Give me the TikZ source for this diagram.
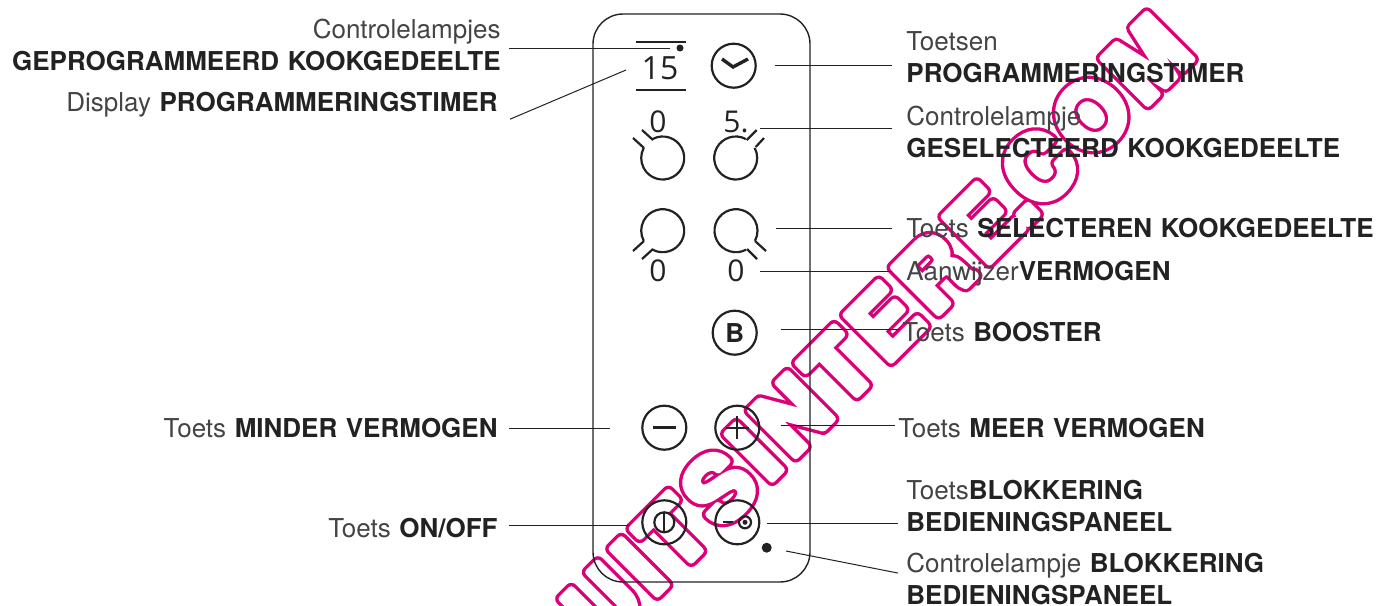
\documentclass[tikz,border=0pt]{standalone}
\usepackage{fontspec}
\setmainfont{TeX Gyre Heros}
\newfontfamily\digitfont{Open Sans}
\newfontfamily\stampfont[LetterSpace=9.5]{TeX Gyre Heros}
\usetikzlibrary{calc}
\definecolor{inkgray}{HTML}{222222}
\definecolor{softink}{HTML}{444444}
\definecolor{stampred}{HTML}{DC0078}
\tikzset{
  leader/.style={draw=inkgray, line width=0.5pt, shorten >=6.5pt},
  panel/.style={draw=inkgray, line width=0.7pt},
  pushkey/.style={circle, draw=inkgray, line width=1.1pt, minimum size=22pt, inner sep=0pt},
  tickline/.style={inkgray, line width=1.1pt},
  lblright/.style={anchor=base west, align=left, inner sep=0.5pt, text=softink, font=\fontsize{13}{16}\selectfont},
  lblleft/.style={anchor=base east, align=right, inner sep=0.5pt, text=softink, font=\fontsize{13}{16}\selectfont},
  readout/.style={inner sep=0pt, text=inkgray, font=\digitfont\fontsize{15}{15}\selectfont},
  stampmark/.style={rotate=45, anchor=base east, inner sep=0pt, font=\stampfont\bfseries\fontsize{44}{44}\selectfont}
}
\newcommand{\kw}[1]{\textcolor{inkgray}{\textbf{#1}}}
\newcommand{\wgap}{\hspace{4.3pt}}
\newcommand{\stampword}{UITSINTERE\kern-1.5pt.\kern-1.5pt COM}
\newcommand{\outlined}[2]{\special{pdf:code 2 Tr #1 w 1 j}#2\special{pdf:code 0 Tr}}
\begin{document}
\begin{tikzpicture}[x=0.5pt, y=-0.5pt]
\useasboundingbox (0,0) rectangle (1380,605);
% stamp across the panel
\coordinate (stampend) at (1196,55.5);
\node[stampmark, text=stampred] (stampline) at (stampend) {\outlined{6.7}{\stampword}};
\node[stampmark, text=white] (stampfill) at (stampend) {\outlined{3.3}{\stampword}};
% housing
\draw[panel] (593,14) [rounded corners=15pt] rectangle (810,582);
% display
\draw[tickline, line width=0.6pt] (636,42) -- (686,42);
\draw[tickline, line width=0.6pt] (636,90) -- (686,90);
\node[readout, font=\digitfont\fontsize{16}{16}\selectfont] (timeread) at (660,68.5) {15};
\fill[inkgray] (680,48) circle (3.5);
% timer key
\node[pushkey] (keytimer) at (733.7,65.7) {};
\draw[inkgray, line width=1.7pt] (722,59) -- (733,67) -- (748,59);
% zone selectors
\draw[tickline] (662.7,158) ++(-118:21.5) arc (-118:208:21.5);
\draw[tickline] (633,138) -- (644,148);
\draw[tickline] (642,130) -- (653,140);
\draw[tickline] (735.7,158) ++(-62:21.5) arc (-62:-388:21.5);
\draw[tickline] (764,138) -- (755.7,147);
\draw[tickline] (756.7,130) -- (746.7,140);
\draw[tickline] (662.7,230.7) ++(118:21.5) arc (118:-208:21.5);
\draw[tickline] (633,251) -- (644,241);
\draw[tickline] (642,259) -- (653,249);
\draw[tickline] (736,230.7) ++(62:21.5) arc (62:388:21.5);
\draw[tickline] (766,251) -- (755,241);
\draw[tickline] (757,259) -- (747,249);
\node[readout] (readtl) at (658,122) {0};
\node[readout] (readtr) at (736,122) {5.};
\node[readout] (readbl) at (658,271) {0};
\node[readout] (readbr) at (736,271) {0};
% other keys
\node[pushkey, font=\bfseries\fontsize{13}{13}\selectfont, text=inkgray] (keybooster) at (734.7,332.7) {B};
\node[pushkey] (keyminus) at (664.3,427.7) {};
\draw[tickline, line width=1.3pt] (653,427.7) -- (675.6,427.7);
\node[pushkey] (keyplus) at (737.3,427.7) {};
\draw[tickline] (726,427.7) -- (748.6,427.7);
\draw[tickline] (737.3,416.4) -- (737.3,439);
\node[pushkey] (keyonoff) at (664.3,522.3) {};
\draw[tickline] (664.3,522.3) circle (10);
\draw[tickline] (664.3,512.3) -- (664.3,532.3);
\node[pushkey] (keylock) at (737.3,522.3) {};
\draw[tickline] (722.7,522.3) -- (733,522.3);
\draw[tickline] (745,522.3) circle (6);
\fill[inkgray] (745,522.3) circle (2.5);
\fill[inkgray] (766.7,547.7) circle (5);
% free ends of the leaders
\coordinate (lamptimer) at (670,48);
\coordinate (readfree) at (626,70);
\coordinate (ptkeytimer) at (775,65);
\coordinate (ptzone) at (760,128);
\coordinate (ptselect) at (776,228);
\coordinate (ptpower) at (760,271);
\coordinate (ptbooster) at (781,329);
\coordinate (ptminus) at (610,428);
\coordinate (ptplus) at (781,425);
\coordinate (ptonoff) at (630,525.5);
\coordinate (ptlock) at (767,523);
\coordinate (ptlamp) at (786,551);
% labels
\node[lblleft] (lblprog) at (502,70) {Controlelampjes\\\kw{GEPROGRAMMEERD\wgap KOOKGEDEELTE}};
\node[lblleft] (lbldisplay) at (499,111) {Display\wgap \kw{PROGRAMMERINGSTIMER}};
\node[lblleft] (lblminus) at (499,437) {Toets\wgap \kw{MINDER\wgap VERMOGEN}};
\node[lblleft] (lblonoff) at (499,537) {Toets\wgap \kw{ON/OFF}};
\node[lblright] (lbltimer) at (905,82) {Toetsen\\\kw{PROGRAMMERINGSTIMER}};
\node[lblright] (lblzone) at (905,157) {Controlelampje\\\kw{GESELECTEERD\wgap KOOKGEDEELTE}};
\node[lblright] (lblselect) at (905,237) {Toets\wgap \kw{SELECTEREN\wgap KOOKGEDEELTE}};
\node[lblright] (lblpower) at (905,280) {Aanwijzer\kw{VERMOGEN}};
\node[lblright] (lblbooster) at (901,341) {Toets\wgap \kw{BOOSTER}};
\node[lblright] (lblplus) at (897,437) {Toets\wgap \kw{MEER\wgap VERMOGEN}};
\node[lblright] (lbllock) at (905,531) {Toets\kw{BLOKKERING}\\\kw{BEDIENINGSPANEEL}};
\node[lblright] (lbllamp) at (905,604) {Controlelampje\wgap \kw{BLOKKERING}\\\kw{BEDIENINGSPANEEL}};
% leaders
\draw[leader, shorten >=3.5pt] (lamptimer) -- (lblprog.east |- lamptimer);
\draw[leader, shorten >=0pt] ($(lbldisplay.east)+(11,15)$) -- (readfree);
\draw[leader, shorten >=5pt] (ptminus) -- (lblminus.east |- ptminus);
\draw[leader, shorten >=5pt] (ptonoff) -- (lblonoff.east |- ptonoff);
\draw[leader] (ptkeytimer) -- (lbltimer.west |- ptkeytimer);
\draw[leader] (ptzone) -- (lblzone.west |- ptzone);
\draw[leader] (ptselect) -- (lblselect.west |- ptselect);
\draw[leader] (ptpower) -- (lblpower.west |- ptpower);
\draw[leader, shorten >=0.5pt] (ptbooster) -- (lblbooster.west |- ptbooster);
\draw[leader, shorten >=1pt] (ptplus) -- (lblplus.west |- ptplus);
\draw[leader, shorten >=3.5pt] (ptlock) -- (lbllock.west |- ptlock);
\draw[leader, shorten >=3.5pt] (ptlamp) -- ($(lbllamp.west)+(0,-4)$);
\end{tikzpicture}
\end{document}
